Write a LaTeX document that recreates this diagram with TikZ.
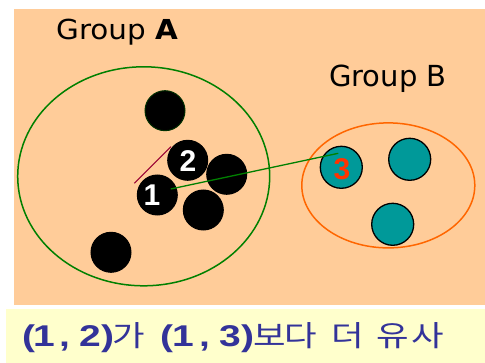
\documentclass[tikz,border=0pt]{standalone}
\usetikzlibrary{shapes.geometric}
\usepackage{fontspec}
\setmainfont{Liberation Sans}
\newfontfamily\krfont{Noto Sans CJK KR}
\newfontfamily\grpb{DejaVu Sans}
\definecolor{peach}{HTML}{FFCC99}
\definecolor{lightyel}{HTML}{FFFFCC}
\definecolor{teal3}{HTML}{009999}
\definecolor{grpgreen}{HTML}{008000}
\definecolor{grporange}{HTML}{FF6600}
\definecolor{txtblue}{HTML}{333399}
\definecolor{numred}{HTML}{FF3300}
\definecolor{maroon3}{HTML}{990033}
\newcommand{\putat}[2]{\makebox[0pt][l]{\hspace*{#1pt}#2}}
\newcommand{\lat}[1]{{\fontsize{30}{30}\selectfont\bfseries\scalebox{1.3}[1]{#1}}}
\newcommand{\kor}[1]{{\krfont\fontsize{29}{29}\selectfont\scalebox{1.22}[1]{#1}}}
\begin{document}
\begin{tikzpicture}[x=1pt,y=-1pt,
  blackdot/.style={circle,fill=black,draw=black,line width=1pt,minimum size=40pt,inner sep=0pt},
  tealdot/.style={circle,fill=teal3,draw=black,line width=1.3pt,minimum size=42pt,inner sep=0pt},
  numtxt/.style={font=\fontsize{30}{30}\selectfont\bfseries}]
\useasboundingbox (0,0) rectangle (485,363);
\fill[white] (0,0) rectangle (485,363);
\fill[peach] (14,9) rectangle (485,305);
\fill[lightyel] (6,309) rectangle (485,363);
% groups
\node[draw=grpgreen,line width=1.5pt,ellipse,minimum width=252pt,minimum height=219pt,inner sep=0pt] (ga) at (143.7,176.3) {};
\node[draw=grporange,line width=1.5pt,ellipse,minimum width=173pt,minimum height=125pt,inner sep=0pt] (gb) at (388.3,185.4) {};
% labels
\node[anchor=base west,inner sep=0pt,font=\grpb\fontsize{27.5}{27.5}\selectfont] (la) at (56,40) {\scalebox{1.07}[1]{Group \textbf{A}}};
\node[anchor=base west,inner sep=0pt,font=\grpb\fontsize{29}{29}\selectfont] (lb) at (329,87) {Group B};
% black dots
\node[blackdot,draw=black!70!green!60!black] (d0) at (165,110.7) {};
\node[blackdot] (d2) at (187.7,160.3) {};
\node[blackdot] (d4) at (226.7,174.3) {};
\node[blackdot] (d1) at (157.3,195) {};
\node[blackdot] (d5) at (203.3,210) {};
\node[blackdot] (d6) at (111,252.3) {};
% teal dots
\node[tealdot] (t3) at (341.3,167.3) {};
\node[tealdot] (t4) at (409.7,159.3) {};
\node[tealdot] (t5) at (392.7,224.3) {};
% numbers
\node[numtxt,text=white,inner sep=0pt] (n1) at (152,195) {1};
\node[numtxt,text=white,inner sep=0pt] (n2) at (188,161) {2};
\node[numtxt,text=numred,inner sep=0pt] (n3) at (342,169) {3};
% connectors
\coordinate (p1) at (134.3,183.3);
\coordinate (p2) at (171,146.7);
\draw[maroon3,line width=1pt] (p1) -- (p2);
\coordinate (g1) at (170.7,189);
\coordinate (g3) at (338.3,153.3);
\draw[grpgreen,line width=1.3pt] (g1) -- (g3);
% bottom text
\node[anchor=base west,inner sep=0pt,text=txtblue] (bt) at (0,347)
 {\putat{22}{\lat{(}}\putat{33}{\lat{1}}\putat{59}{\lat{,}}\putat{79}{\lat{2}}\putat{101}{\lat{)}}%
  \putat{112}{\kor{가}}%
  \putat{160}{\lat{(}}\putat{172}{\lat{1}}\putat{199}{\lat{,}}\putat{219}{\lat{3}}\putat{241}{\lat{)}}%
  \putat{253}{\kor{보}}\putat{284}{\kor{다}}\putat{331}{\kor{더}}\putat{376}{\kor{유}}\putat{411}{\kor{사}}\hspace*{445pt}};
\end{tikzpicture}
\end{document}
